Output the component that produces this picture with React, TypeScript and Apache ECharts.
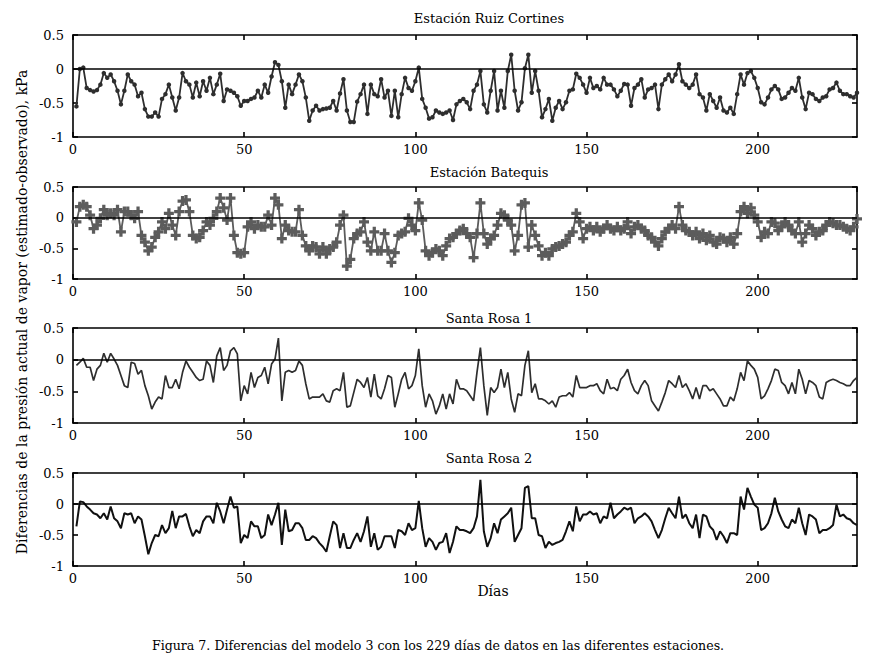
import React, { useEffect, useRef } from "react";
import * as echarts from "echarts";

const titles = ["Estación Ruiz Cortines", "Estación Batequis", "Santa Rosa 1", "Santa Rosa 2"];
const yLabel = "Diferencias de la presión actual de vapor (estimado-observado), kPa";
const xLabel = "Días";
const caption = "Figura 7. Diferencias del modelo 3 con los 229 días de datos en las diferentes estaciones.";

const ruizCortines = [
  -0.55, 0.00, 0.02, -0.28, -0.31, -0.33, -0.31, -0.23, -0.06, -0.13,
  -0.08, -0.18, -0.32, -0.52, -0.32, -0.08, -0.18, -0.23, -0.40, -0.35,
  -0.59, -0.70, -0.70, -0.64, -0.70, -0.44, -0.37, -0.23, -0.42, -0.61,
  -0.42, -0.06, -0.18, -0.23, -0.42, -0.20, -0.40, -0.18, -0.32, -0.13,
  -0.37, -0.23, -0.07, -0.47, -0.30, -0.32, -0.35, -0.40, -0.54, -0.47,
  -0.47, -0.44, -0.42, -0.32, -0.42, -0.23, -0.35, -0.11, 0.10, 0.06,
  -0.18, -0.57, -0.23, -0.37, -0.23, -0.08, -0.18, -0.42, -0.76, -0.61,
  -0.54, -0.61, -0.59, -0.58, -0.57, -0.47, -0.61, -0.36, -0.15, -0.61,
  -0.78, -0.78, -0.48, -0.37, -0.23, -0.66, -0.23, -0.37, -0.40, -0.15,
  -0.42, -0.32, -0.69, -0.32, -0.71, -0.37, -0.13, -0.28, -0.32, -0.18,
  0.02, -0.44, -0.57, -0.73, -0.71, -0.61, -0.64, -0.66, -0.64, -0.61,
  -0.75, -0.52, -0.47, -0.44, -0.49, -0.59, -0.32, -0.23, -0.03, -0.52,
  -0.64, -0.32, -0.03, -0.61, -0.32, -0.57, -0.03, 0.21, -0.32, -0.61,
  -0.49, 0.01, 0.21, -0.35, -0.03, -0.32, -0.71, -0.59, -0.44, -0.76,
  -0.57, -0.47, -0.59, -0.49, -0.32, -0.30, -0.07, -0.13, -0.23, -0.35,
  -0.13, -0.28, -0.25, -0.30, -0.13, -0.23, -0.23, -0.30, -0.40, -0.32,
  -0.22, -0.23, -0.54, -0.28, -0.23, -0.15, -0.42, -0.30, -0.28, -0.23,
  -0.59, -0.23, -0.15, -0.08, -0.18, -0.08, 0.07, -0.18, -0.23, -0.28,
  -0.23, -0.08, -0.37, -0.42, -0.61, -0.37, -0.47, -0.57, -0.42, -0.61,
  -0.64, -0.57, -0.66, -0.37, -0.08, -0.23, -0.06, -0.03, -0.13, -0.28,
  -0.49, -0.52, -0.42, -0.30, -0.25, -0.30, -0.44, -0.42, -0.35, -0.28,
  -0.32, -0.13, -0.42, -0.59, -0.35, -0.37, -0.44, -0.47, -0.42, -0.40,
  -0.30, -0.28, -0.20, -0.32, -0.37, -0.37, -0.40, -0.42, -0.35,
];

const batequis = [
  -0.07, 0.18, 0.21, 0.18, 0.04, -0.18, -0.12, -0.01, 0.13, 0.04,
  0.07, 0.04, 0.13, -0.23, 0.10, 0.10, 0.04, -0.01, 0.10, -0.29,
  -0.40, -0.54, -0.48, -0.32, -0.23, -0.07, -0.18, 0.07, -0.12, -0.29,
  0.10, 0.27, 0.29, 0.10, -0.29, -0.34, -0.32, -0.21, -0.07, -0.12,
  -0.01, 0.10, 0.32, 0.16, -0.04, 0.32, -0.29, -0.57, -0.59, -0.57,
  -0.15, -0.07, -0.18, -0.12, -0.15, -0.15, 0.04, -0.12, 0.32, 0.21,
  -0.34, -0.12, -0.21, -0.23, -0.23, 0.13, -0.29, -0.46, -0.54, -0.46,
  -0.48, -0.59, -0.48, -0.59, -0.51, -0.48, -0.40, -0.12, 0.04, -0.79,
  -0.68, -0.34, -0.26, -0.23, -0.07, -0.40, -0.54, -0.23, -0.54, -0.54,
  -0.26, -0.54, -0.73, -0.57, -0.29, -0.26, -0.23, -0.01, -0.12, -0.21,
  0.24, -0.04, -0.54, -0.62, -0.57, -0.51, -0.54, -0.62, -0.46, -0.34,
  -0.32, -0.26, -0.21, -0.18, -0.26, -0.32, -0.65, -0.26, 0.24, -0.26,
  -0.43, -0.34, -0.29, -0.12, 0.07, 0.04, -0.04, -0.12, -0.54, -0.29,
  0.21, 0.24, -0.48, -0.12, -0.29, -0.46, -0.62, -0.57, -0.62, -0.51,
  -0.48, -0.46, -0.43, -0.40, -0.29, -0.23, 0.07, -0.07, -0.34, -0.18,
  -0.15, -0.21, -0.15, -0.23, -0.18, -0.12, -0.18, -0.21, -0.15, -0.21,
  -0.18, -0.07, -0.26, -0.15, -0.12, -0.18, -0.21, -0.29, -0.32, -0.40,
  -0.46, -0.34, -0.23, -0.18, -0.12, -0.18, 0.18, -0.12, -0.21, -0.23,
  -0.29, -0.23, -0.34, -0.26, -0.37, -0.29, -0.40, -0.43, -0.32, -0.34,
  -0.40, -0.32, -0.43, -0.26, 0.10, 0.18, 0.07, 0.16, 0.04, -0.07,
  -0.32, -0.23, -0.26, -0.07, -0.09, -0.21, -0.15, -0.07, -0.12, -0.21,
  -0.26, -0.07, -0.40, -0.26, -0.12, -0.18, -0.29, -0.23, -0.21, -0.12,
  -0.07, -0.09, -0.12, -0.12, -0.15, -0.18, -0.21, -0.15, -0.02,
];

const santaRosa1 = [
  -0.09, -0.04, 0.02, -0.12, -0.12, -0.33, -0.15, -0.09, 0.10, -0.04,
  0.10, 0.01, -0.09, -0.25, -0.41, -0.44, -0.04, -0.06, -0.23, -0.17,
  -0.41, -0.57, -0.78, -0.67, -0.59, -0.62, -0.25, -0.44, -0.44, -0.31,
  -0.46, -0.20, -0.02, -0.12, -0.20, -0.28, -0.33, -0.31, -0.02, -0.09,
  -0.36, 0.06, 0.19, -0.17, -0.09, 0.14, 0.19, 0.09, -0.65, -0.41,
  -0.54, -0.20, -0.44, -0.28, -0.25, -0.12, -0.38, -0.07, 0.01, 0.34,
  -0.65, -0.20, -0.17, -0.20, -0.17, -0.02, -0.09, -0.38, -0.62, -0.59,
  -0.59, -0.59, -0.54, -0.65, -0.67, -0.49, -0.46, -0.49, -0.20, -0.75,
  -0.73, -0.52, -0.31, -0.36, -0.44, -0.28, -0.59, -0.23, -0.57, -0.62,
  -0.46, -0.25, -0.28, -0.75, -0.54, -0.31, -0.20, -0.46, -0.41, -0.25,
  0.17, -0.41, -0.75, -0.54, -0.65, -0.86, -0.73, -0.54, -0.78, -0.54,
  -0.70, -0.31, -0.46, -0.46, -0.49, -0.57, -0.65, -0.20, 0.19, -0.41,
  -0.88, -0.44, -0.52, -0.44, -0.15, -0.44, -0.20, -0.62, -0.83, -0.54,
  -0.57, -0.09, 0.14, -0.52, -0.38, -0.62, -0.62, -0.65, -0.70, -0.65,
  -0.75, -0.59, -0.57, -0.57, -0.52, -0.59, -0.25, -0.44, -0.44, -0.44,
  -0.41, -0.41, -0.38, -0.49, -0.54, -0.31, -0.46, -0.44, -0.49, -0.31,
  -0.25, -0.15, -0.36, -0.49, -0.54, -0.41, -0.33, -0.41, -0.65, -0.73,
  -0.81, -0.67, -0.52, -0.33, -0.38, -0.44, -0.25, -0.44, -0.38, -0.49,
  -0.62, -0.44, -0.62, -0.41, -0.41, -0.49, -0.46, -0.54, -0.62, -0.73,
  -0.73, -0.59, -0.65, -0.46, -0.20, -0.33, -0.02, -0.09, -0.15, -0.28,
  -0.62, -0.57, -0.46, -0.33, -0.15, -0.17, -0.36, -0.41, -0.54, -0.36,
  -0.54, -0.15, -0.31, -0.54, -0.33, -0.36, -0.41, -0.59, -0.62, -0.36,
  -0.33, -0.31, -0.33, -0.36, -0.38, -0.41, -0.41, -0.33, -0.28,
];

const santaRosa2 = [
  -0.36, 0.04, 0.03, -0.04, -0.09, -0.15, -0.17, -0.23, -0.15, -0.25,
  -0.04, -0.23, -0.28, -0.39, -0.15, -0.17, -0.15, -0.31, -0.20, -0.25,
  -0.52, -0.81, -0.63, -0.50, -0.52, -0.34, -0.47, -0.39, -0.11, -0.39,
  -0.20, -0.20, -0.16, -0.36, -0.52, -0.42, -0.47, -0.28, -0.20, -0.20,
  -0.31, 0.02, -0.12, -0.31, -0.09, 0.12, -0.06, -0.04, -0.63, -0.50,
  -0.55, -0.28, -0.36, -0.36, -0.55, -0.50, -0.17, -0.34, -0.17, 0.02,
  -0.66, -0.09, -0.44, -0.42, -0.31, -0.31, -0.39, -0.58, -0.58, -0.52,
  -0.55, -0.63, -0.69, -0.77, -0.52, -0.28, -0.34, -0.71, -0.47, -0.71,
  -0.71, -0.58, -0.47, -0.61, -0.44, -0.20, -0.69, -0.47, -0.74, -0.69,
  -0.52, -0.52, -0.52, -0.71, -0.42, -0.44, -0.50, -0.31, -0.42, -0.39,
  0.05, -0.39, -0.69, -0.55, -0.61, -0.74, -0.63, -0.61, -0.47, -0.79,
  -0.61, -0.36, -0.42, -0.42, -0.44, -0.47, -0.39, -0.20, 0.39, -0.44,
  -0.69, -0.55, -0.31, -0.47, -0.25, -0.20, -0.15, -0.06, -0.61, -0.50,
  -0.39, 0.26, 0.29, -0.23, -0.23, -0.50, -0.52, -0.71, -0.61, -0.66,
  -0.63, -0.61, -0.58, -0.44, -0.28, -0.44, -0.04, -0.28, -0.17, -0.17,
  -0.12, -0.17, -0.15, -0.31, -0.20, -0.23, 0.02, -0.23, -0.17, -0.12,
  -0.06, -0.09, -0.06, -0.31, -0.23, -0.20, -0.15, -0.20, -0.28, -0.42,
  -0.55, -0.42, -0.23, -0.06, -0.15, -0.23, 0.12, -0.23, -0.17, -0.31,
  -0.39, -0.17, -0.55, -0.17, -0.20, -0.36, -0.42, -0.58, -0.44, -0.52,
  -0.63, -0.47, -0.47, -0.50, 0.12, -0.09, 0.26, 0.12, -0.01, -0.06,
  -0.42, -0.39, -0.31, -0.15, 0.10, -0.12, -0.25, -0.36, -0.39, -0.25,
  -0.31, -0.06, -0.31, -0.50, -0.17, -0.20, -0.25, -0.47, -0.42, -0.42,
  -0.39, -0.34, -0.01, -0.20, -0.17, -0.23, -0.25, -0.31, -0.34,
];

const xTicks = { min: 0, max: 229, interval: 50 };
const yTicks = { min: -1, max: 0.5, interval: 0.5 };

const FONT = "DejaVu Serif";

export default function App() {
  const ref = useRef<HTMLDivElement>(null);

  useEffect(() => {
    document.body.style.margin = "0";
    if (!ref.current) return;
    const chart = echarts.init(ref.current, null, { renderer: "svg" });

    const panels = [
      { data: ruizCortines, top: 35, height: 102, color: "#2e2e2e", width: 1.8, symbol: "circle", symbolSize: 4.5, titleY: 18 },
      { data: batequis, top: 187, height: 92, color: "#5c5c5c", width: 1.8, symbol: "path://M2.7,0H5.3V2.7H8V5.3H5.3V8H2.7V5.3H0V2.7H2.7Z", symbolSize: 10, titleY: 172 },
      { data: santaRosa1, top: 328, height: 95, color: "#2e2e2e", width: 1.7, symbol: "none", symbolSize: 0, titleY: 318 },
      { data: santaRosa2, top: 473, height: 93, color: "#111111", width: 2, symbol: "none", symbolSize: 0, titleY: 458 },
    ];

    const axisLine = { show: true, onZero: false, lineStyle: { color: "#000", width: 1.6 } };
    const tick = { show: true, inside: true, length: 5, lineStyle: { color: "#000", width: 1.6 } };
    const label = { color: "#000", fontFamily: FONT, fontSize: 13 };

    const grid: any[] = [];
    const xAxis: any[] = [];
    const yAxis: any[] = [];
    const series: any[] = [];
    const graphic: any[] = [];

    panels.forEach((p, g) => {
      grid.push({ left: 73, right: 22, top: p.top, height: p.height });
      xAxis.push({
        type: "value", gridIndex: g, position: "bottom", ...xTicks,
        axisLine, axisTick: tick, splitLine: { show: false },
        axisLabel: { ...label, margin: 6, showMaxLabel: false },
      });
      xAxis.push({
        type: "value", gridIndex: g, position: "top", ...xTicks,
        axisLine, axisTick: tick, splitLine: { show: false },
        axisLabel: { show: false },
      });
      yAxis.push({
        type: "value", gridIndex: g, position: "left", ...yTicks,
        axisLine, axisTick: tick, splitLine: { show: false },
        axisLabel: { ...label, margin: 9 },
      });
      yAxis.push({
        type: "value", gridIndex: g, position: "right", ...yTicks,
        axisLine, axisTick: tick, splitLine: { show: false },
        axisLabel: { show: false },
      });
      series.push({
        type: "line",
        xAxisIndex: 2 * g,
        yAxisIndex: 2 * g,
        data: p.data.map((v, i) => [i + 1, v]),
        symbol: p.symbol,
        symbolSize: p.symbolSize,
        showSymbol: p.symbol !== "none",
        itemStyle: { color: p.color },
        lineStyle: { color: p.color, width: p.width },
        markLine: {
          silent: true,
          symbol: "none",
          label: { show: false },
          lineStyle: { color: "#000", width: 1.6, type: "solid" },
          data: [{ yAxis: 0 }],
        },
        z: 3,
      });
      graphic.push({
        type: "text",
        x: 489,
        y: p.titleY,
        style: {
          text: titles[g],
          fontFamily: FONT,
          fontSize: 13,
          fill: "#000",
          textAlign: "center",
          textVerticalAlign: "middle",
        },
      });
    });

    graphic.push({
      type: "text",
      x: 22,
      y: 312,
      rotation: Math.PI / 2,
      style: {
        text: yLabel,
        fontFamily: FONT,
        fontSize: 14,
        fill: "#000",
        textAlign: "center",
        textVerticalAlign: "middle",
      },
    });
    graphic.push({
      type: "text",
      x: 493,
      y: 591,
      style: { text: xLabel, fontFamily: FONT, fontSize: 14, fill: "#000", textAlign: "center", textVerticalAlign: "middle" },
    });
    graphic.push({
      type: "text",
      x: 438,
      y: 645,
      style: { text: caption, fontFamily: FONT, fontSize: 12.6, fill: "#000", textAlign: "center", textVerticalAlign: "middle" },
    });

    chart.setOption({
      animation: false,
      backgroundColor: "#fff",
      grid,
      xAxis,
      yAxis,
      series,
      graphic,
    });

    return () => chart.dispose();
  }, []);

  return <div ref={ref} style={{ width: 879, height: 666 }} />;
}
